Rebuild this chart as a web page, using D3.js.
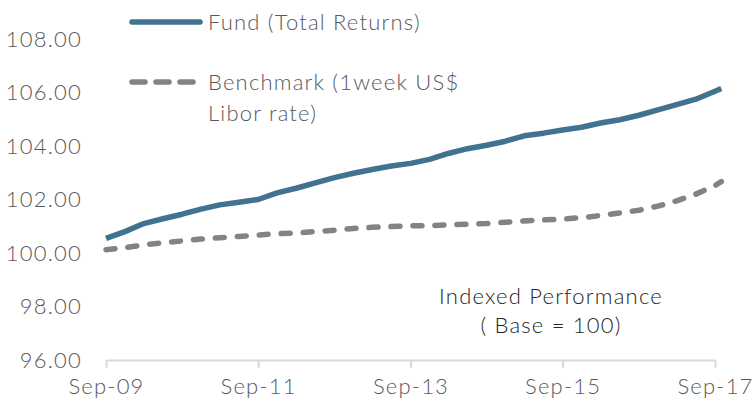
<!DOCTYPE html>
<html>
<head>
<meta charset="utf-8">
<script src="https://cdn.jsdelivr.net/npm/d3@7"></script>
<style>
  body { margin: 0; background: #fff; }
  svg { display: block; font-family: Lato, "Open Sans", sans-serif; font-weight: 300; letter-spacing: 1.2px; }
</style>
</head>
<body>
<div id="chart"></div>
<script>
// quarter-end months, Sep-09 .. Sep-17 (plus one month past)
const months = [
  "2009-09","2009-12","2010-03","2010-06","2010-09","2010-12","2011-03","2011-06",
  "2011-09","2011-12","2012-03","2012-06","2012-09","2012-12","2013-03","2013-06",
  "2013-09","2013-12","2014-03","2014-06","2014-09","2014-12","2015-03","2015-06",
  "2015-09","2015-12","2016-03","2016-06","2016-09","2016-12","2017-03","2017-06",
  "2017-09","2017-10"
];
const fund = [
  100.55,100.80,101.10,101.28,101.45,101.64,101.80,101.90,
  102.00,102.25,102.42,102.62,102.82,102.98,103.12,103.25,
  103.35,103.50,103.72,103.90,104.03,104.18,104.38,104.48,
  104.60,104.70,104.86,104.98,105.15,105.35,105.55,105.75,
  106.05,106.15
];
const benchmark = [
  100.12,100.20,100.30,100.38,100.45,100.52,100.57,100.62,
  100.67,100.72,100.75,100.80,100.85,100.92,100.96,100.99,
  101.02,101.02,101.06,101.08,101.10,101.15,101.20,101.24,
  101.27,101.32,101.40,101.50,101.60,101.75,101.95,102.20,
  102.52,102.67
];
const xTicks = ["2009-09","2011-09","2013-09","2015-09","2017-09"];
const yTicks = [96, 98, 100, 102, 104, 106, 108];
const seriesNames = ["Fund (Total Returns)", "Benchmark (1week US$", "Libor rate)"];

const w = 755, h = 410;
const parse = d3.timeParse("%Y-%m");

const svg = d3.select("#chart").append("svg")
  .attr("width", w)
  .attr("height", h);

const x = d3.scaleTime()
  .domain([parse("2009-09"), parse("2017-09")])
  .range([106, 715]);

const y = d3.scaleLinear()
  .domain([96, 108])
  .range([360, 39]);

// x axis
const xAxis = svg.append("g")
  .attr("transform", "translate(0,360)")
  .call(d3.axisBottom(x)
    .tickValues(xTicks.map(parse))
    .tickSize(8)
    .tickSizeOuter(0)
    .tickPadding(10)
    .tickFormat(d3.timeFormat("%b-%y")));
xAxis.select(".domain").attr("stroke", "#d9d9d9").attr("stroke-width", 2);
xAxis.selectAll(".tick line").attr("stroke", "#d9d9d9").attr("stroke-width", 2);
xAxis.selectAll("text").attr("fill", "#595959").style("font-size", "22px")
  .style("font-family", "Lato, sans-serif").style("font-weight", 300);

// y labels only
const yAxis = svg.append("g")
  .attr("transform", "translate(82,0)")
  .call(d3.axisLeft(y)
    .tickValues(yTicks)
    .tickSize(0)
    .tickPadding(0)
    .tickFormat(d3.format(".2f")));
yAxis.select(".domain").remove();
yAxis.selectAll("text").attr("fill", "#595959").style("font-size", "22px")
  .style("font-family", "Lato, sans-serif").style("font-weight", 300);

const line = d3.line()
  .x((d, i) => x(parse(months[i])))
  .y(d => y(d));

svg.append("path")
  .datum(benchmark)
  .attr("fill", "none")
  .attr("stroke", "#838383")
  .attr("stroke-width", 5.5)
  .attr("stroke-linecap", "round")
  .attr("stroke-dasharray", "9,13")
  .attr("d", line);

svg.append("path")
  .datum(fund)
  .attr("fill", "none")
  .attr("stroke", "#41728f")
  .attr("stroke-width", 5.5)
  .attr("stroke-linejoin", "round")
  .attr("d", line);

// legend
const legend = svg.append("g");
legend.append("line")
  .attr("x1", 132).attr("x2", 200).attr("y1", 22).attr("y2", 22)
  .attr("stroke", "#41728f").attr("stroke-width", 5.5).attr("stroke-linecap", "round");
legend.append("line")
  .attr("x1", 132).attr("x2", 193).attr("y1", 82).attr("y2", 82)
  .attr("stroke", "#838383").attr("stroke-width", 5.5).attr("stroke-linecap", "round")
  .attr("stroke-dasharray", "13,11");

legend.selectAll("text")
  .data(seriesNames)
  .join("text")
  .attr("x", 208)
  .attr("y", (d, i) => [22, 82, 113][i])
  .attr("dy", "0.35em")
  .attr("fill", "#595959")
  .style("font-size", "22px")
  .text(d => d);

// note
svg.append("text")
  .attr("text-anchor", "middle")
  .attr("fill", "#262626")
  .style("font-size", "22px")
  .selectAll("tspan")
  .data(["Indexed Performance", "( Base = 100)"])
  .join("tspan")
  .attr("x", 551)
  .attr("y", (d, i) => 304 + i * 29)
  .text(d => d);
</script>
</body>
</html>
